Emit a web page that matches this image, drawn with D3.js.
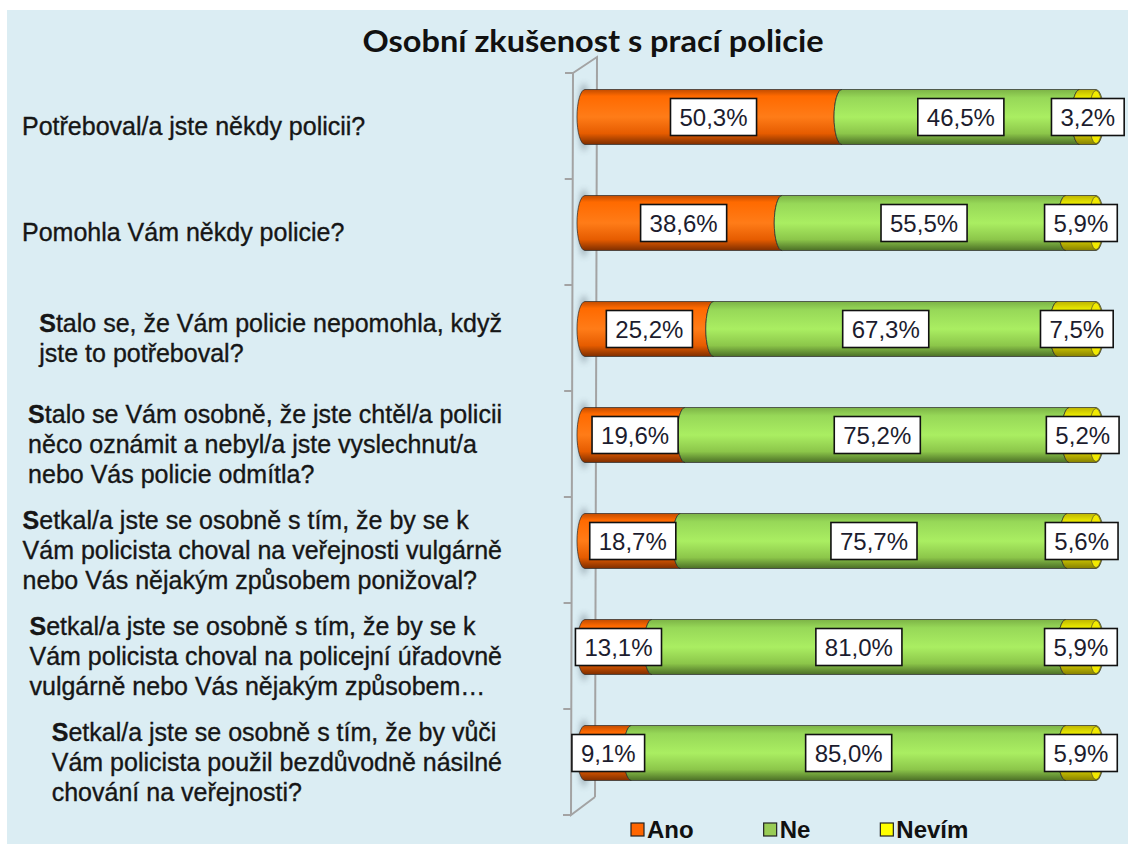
<!DOCTYPE html>
<html>
<head>
<meta charset="utf-8">
<script src="https://cdn.jsdelivr.net/npm/d3@7"></script>
<style>
  body { margin: 0; background: #fff; }
  svg { display: block; }
</style>
</head>
<body>
<svg width="1128" height="844"></svg>
<script>
// Chart data
var title = "Osobní zkušenost s prací policie";
var categories = [
  ["Potřeboval/a jste někdy policii?"],
  ["Pomohla Vám někdy policie?"],
  ["Stalo se, že Vám policie nepomohla, když", "jste to potřeboval?"],
  ["Stalo se Vám osobně, že jste chtěl/a policii", "něco oznámit a nebyl/a jste vyslechnut/a", "nebo Vás policie odmítla?"],
  ["Setkal/a jste se osobně s tím, že by se k", "Vám policista choval na veřejnosti vulgárně", "nebo Vás nějakým způsobem ponižoval?"],
  ["Setkal/a jste se osobně s tím, že by se k", "Vám policista choval na policejní úřadovně", "vulgárně nebo Vás nějakým způsobem…"],
  ["Setkal/a jste se osobně s tím, že by vůči", "Vám policista použil bezdůvodně násilné", "chování na veřejnosti?"]
];
var seriesNames = ["Ano", "Ne", "Nevím"];
var ano   = [50.3, 38.6, 25.2, 19.6, 18.7, 13.1, 9.1];
var ne    = [46.5, 55.5, 67.3, 75.2, 75.7, 81.0, 85.0];
var nevim = [3.2, 5.9, 7.5, 5.2, 5.6, 5.9, 5.9];

// Cylinder shading per series: [offset, colour] stops, cap colour, legend swatch
var shading = {
  "Ano":   {stops: [[0, "#c24c00"], [0.12, "#ff6a00"], [0.5, "#ff7c18"], [0.8, "#e65c00"], [1, "#7e2e00"]], cap: "#ff7a10", swatch: "#ff6600"},
  "Ne":    {stops: [[0, "#7cb346"], [0.15, "#97d858"], [0.5, "#aaee62"], [0.8, "#8cc64a"], [1, "#4b6f26"]], cap: "#a6e65e", swatch: "#99cc55"},
  "Nevím": {stops: [[0, "#bdb400"], [0.15, "#eeee00"], [0.5, "#ffff22"], [0.8, "#d8d000"], [1, "#858000"]], cap: "#f2ea00", swatch: "#ffff00"}
};

var rows = categories.map(function(c, i) {
  return {key: i, "Ano": ano[i], "Ne": ne[i], "Nevím": nevim[i]};
});

var svg = d3.select("svg");

// Panel background
svg.append("rect").attr("x", 7).attr("y", 10).attr("width", 1121).attr("height", 834).attr("fill", "#dbedf3");

var defs = svg.append("defs");
seriesNames.forEach(function(s, i) {
  var g = defs.append("linearGradient").attr("id", "grad" + i)
    .attr("x1", 0).attr("y1", 0).attr("x2", 0).attr("y2", 1);
  shading[s].stops.forEach(function(st) {
    g.append("stop").attr("offset", st[0]).attr("stop-color", st[1]);
  });
});
defs.append("filter").attr("id", "blur").attr("x", "-50%").attr("y", "-50%").attr("width", "200%").attr("height", "200%")
  .append("feGaussianBlur").attr("stdDeviation", 3);

// Scales
var y = d3.scaleBand().domain(d3.range(categories.length)).range([73, 815]);
var x = d3.scaleLinear().domain([0, 100]).range([585, 1096]);
var barH = 55, rx = 8, barShift = -9;
function barY(i) { return y(i) + y.bandwidth() / 2 + barShift; }

// 3D wall of the category axis
var wall = svg.append("g").attr("stroke", "#a3a3a3").attr("stroke-width", 2).attr("fill", "none");
wall.append("path").attr("d", "M573," + y.range()[0] + " L597," + (y.range()[0] - 16) + " L595," + (y.range()[1] - 18));
wall.append("path").attr("d", "M573," + y.range()[0] + " L571," + y.range()[1] + " L595," + (y.range()[1] - 18));
d3.range(categories.length + 1).forEach(function(k) {
  var ty = y.range()[0] + k * y.step();
  var tx = 573 - 2 * k / categories.length;
  wall.append("line").attr("x1", tx - 8).attr("x2", tx).attr("y1", ty).attr("y2", ty);
});

// Faint shadows of the bar ends on the wall
svg.append("g").selectAll("ellipse").data(rows).enter().append("ellipse")
  .attr("cx", 584).attr("cy", function(d) { return barY(d.key); })
  .attr("rx", 5).attr("ry", 34)
  .attr("fill", "#4a5a66").attr("opacity", 0.45).attr("filter", "url(#blur)");

// Stacked cylinders
var stack = d3.stack().keys(seriesNames)(rows);

function segPath(x0, x1, yc, roundRight) {
  var t = yc - barH / 2, b = yc + barH / 2, ry = barH / 2;
  return "M" + x0 + "," + t + " L" + x1 + "," + t +
    " A" + rx + "," + ry + " 0 0 " + (roundRight ? 1 : 0) + " " + x1 + "," + b +
    " L" + x0 + "," + b +
    " A" + rx + "," + ry + " 0 0 1 " + x0 + "," + t + " Z";
}

var last = stack.length - 1;
stack.forEach(function(layer, si) {
  var g = svg.append("g");
  g.selectAll("path").data(layer).enter().append("path")
    .attr("d", function(d, i) { return segPath(x(d[0]), x(d[1]), barY(i), si === last); })
    .attr("fill", "url(#grad" + si + ")")
    .attr("stroke", "#2a2a2a").attr("stroke-opacity", 0.7).attr("stroke-width", 1);
  if (si === last) {
    g.selectAll("ellipse").data(layer).enter().append("ellipse")
      .attr("cx", function(d) { return x(d[1]); })
      .attr("cy", function(d, i) { return barY(i); })
      .attr("rx", rx - 1).attr("ry", barH / 2 - 1)
      .attr("fill", shading[seriesNames[si]].cap)
      .attr("stroke", "#3a3a3a").attr("stroke-opacity", 0.6).attr("stroke-width", 1);
  }
});

// Data labels in white boxes
stack.forEach(function(layer, si) {
  layer.forEach(function(d, i) {
    var cx = (x(d[0]) + x(d[1])) / 2, cy = barY(i);
    var lg = svg.append("g");
    var box = lg.append("rect");
    var t = lg.append("text")
      .attr("x", cx).attr("y", cy).attr("dy", "0.36em")
      .attr("text-anchor", "middle")
      .style("font-family", "'Liberation Sans', Arial, sans-serif")
      .style("font-size", "24px").attr("fill", "#1c1c2e")
      .text(d3.format(".1f")(d[1] - d[0]).replace(".", ",") + "%");
    var w = t.node().getComputedTextLength() + 18;
    box.attr("x", cx - w / 2).attr("y", cy - 18.5).attr("width", w).attr("height", 37)
      .attr("fill", "#fff").attr("stroke", "#111").attr("stroke-width", 1.6);
  });
});

// Category labels
var lineH = 30;
categories.forEach(function(lines, i) {
  var cy = y(i) + y.bandwidth() / 2;
  var t = svg.append("text")
    .style("font-family", "'Liberation Sans', Arial, sans-serif")
    .style("font-size", "25px").attr("fill", "#161616")
    .attr("stroke", "#161616").attr("stroke-width", 0.35);
  lines.forEach(function(line, k) {
    var ts = t.append("tspan")
      .attr("y", cy + (k - (lines.length - 1) / 2) * lineH + 9);
    if (k === 0 && line.charAt(0) === "S") {
      ts.append("tspan").style("font-weight", "bold").text(line.charAt(0));
      ts.append("tspan").text(line.slice(1));
    } else {
      ts.text(line);
    }
  });
  var maxW = 0;
  t.selectAll(":scope > tspan").each(function() { maxW = Math.max(maxW, this.getComputedTextLength()); });
  var left = lines.length === 1 ? 22 : 502 - maxW;
  t.selectAll(":scope > tspan").attr("x", left);
});

// Title
svg.append("text")
  .attr("x", 593).attr("y", 52).attr("text-anchor", "middle")
  .attr("textLength", 461).attr("lengthAdjust", "spacingAndGlyphs")
  .style("font-family", "Lato, 'Open Sans', sans-serif")
  .style("font-size", "30px").style("font-weight", "bold").attr("fill", "#111")
  .text(title);

// Legend
var lx = 631;
seriesNames.forEach(function(s) {
  svg.append("rect").attr("x", lx).attr("y", 823).attr("width", 13).attr("height", 13)
    .attr("fill", shading[s].swatch).attr("stroke", "#222").attr("stroke-width", 1.2);
  var t = svg.append("text").attr("x", lx + 16).attr("y", 838)
    .style("font-family", "'Liberation Sans', Arial, sans-serif")
    .style("font-size", "24px").style("font-weight", "bold").attr("fill", "#111")
    .text(s);
  lx += 16 + t.node().getComputedTextLength() + 70;
});
</script>
</body>
</html>
